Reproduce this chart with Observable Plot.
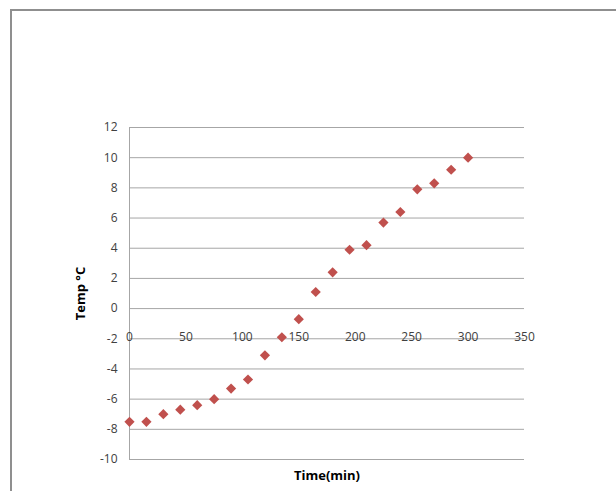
<!DOCTYPE html>
<html>
<head>
<meta charset="utf-8">
<script src="https://cdn.jsdelivr.net/npm/d3@7"></script>
<script src="https://cdn.jsdelivr.net/npm/@observablehq/plot@0.6"></script>
<style>
  html, body { margin: 0; padding: 0; background: #fff; }
  #wrap { position: relative; width: 616px; height: 491px; overflow: hidden; }
  #border { position: absolute; left: 10px; top: 9px; width: 700px; height: 600px;
            border-left: 2px solid #8f8f8f; border-top: 2px solid #8f8f8f; }
  #chart { position: absolute; left: 0; top: 0; }
</style>
</head>
<body>
<div id="wrap"><div id="border"></div><div id="chart"></div></div>
<script>
const timeMin = [0, 15, 30, 45, 60, 75, 90, 105, 120, 135, 150, 165, 180, 195, 210, 225, 240, 255, 270, 285, 300];
const tempC = [-7.5, -7.5, -7.0, -6.7, -6.4, -6.0, -5.3, -4.7, -3.1, -1.9, -0.7, 1.1, 2.4, 3.9, 4.2, 5.7, 6.4, 7.9, 8.3, 9.2, 10.0];
const xTicks = [0, 50, 100, 150, 200, 250, 300, 350];
const yTicks = [-10, -8, -6, -4, -2, 0, 2, 4, 6, 8, 10, 12];
const xTitle = "Time(min)";
const yTitle = "Temp °C";

const data = timeMin.map((t, i) => ({t, v: tempC[i]}));

const chart = Plot.plot({
  width: 616,
  height: 491,
  marginLeft: 129,
  marginRight: 92,
  marginTop: 127,
  marginBottom: 32,
  style: {fontFamily: "'Open Sans', sans-serif", fontSize: "12px", background: "transparent"},
  x: {domain: [0, 350]},
  y: {domain: [-10, 12]},
  marks: [
    Plot.gridY(yTicks, {stroke: "#a6a6a6", strokeOpacity: 1, strokeWidth: 1}),
    Plot.ruleX([0], {stroke: "#a6a6a6", strokeWidth: 1}),
    Plot.axisY(yTicks, {tickSize: 0, tickPadding: 12, fill: "#404040", fontSize: 12,
      tickFormat: d => String(d), label: null}),
    Plot.axisY({ticks: [], tickSize: 0, label: yTitle, labelAnchor: "center", labelArrow: "none", labelOffset: 54,
      fontWeight: "bold", fontSize: 13, fill: "#000"}),
    Plot.axisX({ticks: [], tickSize: 0, label: xTitle, labelAnchor: "center", labelArrow: "none", labelOffset: 20,
      fontWeight: "bold", fontSize: 13, fill: "#000"}),
    Plot.text(xTicks, {x: d => d, y: () => 0, dy: 29, text: d => String(d), fill: "#404040", fontSize: 12}),
    Plot.dot(data, {x: "t", y: "v", symbol: "diamond2", r: 4.6, fill: "#c0504d", stroke: "none"})
  ]
});
document.getElementById("chart").appendChild(chart);
</script>
</body>
</html>
